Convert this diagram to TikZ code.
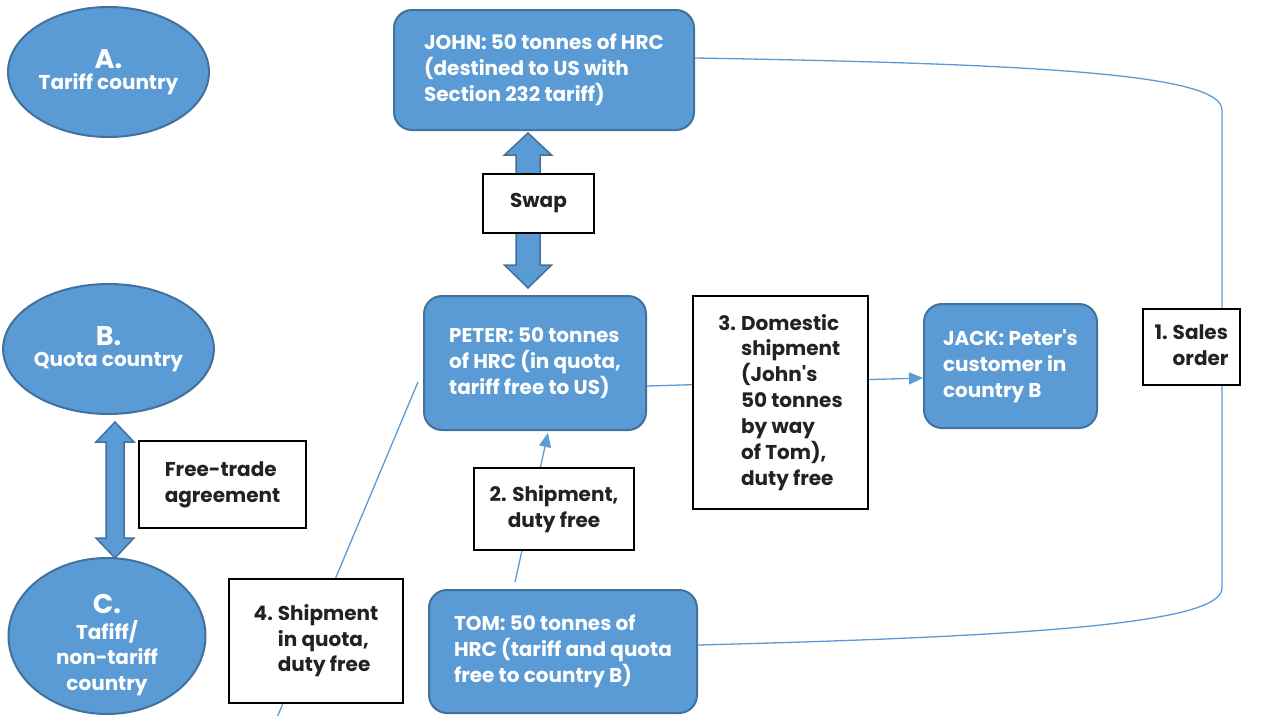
\documentclass[tikz,border=0pt]{standalone}
\usepackage{fontspec}
\setmainfont{Poppins}[Ligatures=TeXOff]
\usetikzlibrary{arrows.meta,shapes.geometric}
\definecolor{bfill}{HTML}{5B9BD5}
\definecolor{bdraw}{HTML}{41719C}
\definecolor{txt}{HTML}{222222}
\newcommand\bodyfont{\fontsize{20}{25.8}\selectfont\bfseries}
\newcommand\bigfont{\fontsize{27}{29}\selectfont\bfseries}
\tikzset{
  bluebox/.style={draw=bdraw, fill=bfill, line width=2pt, rounded corners=18pt,
    text=white, font=\bodyfont, align=left, inner sep=0pt},
  whitebox/.style={draw=black, fill=white, line width=1.5pt, text=txt,
    font=\bodyfont, align=left, inner sep=0pt},
  country/.style={ellipse, draw=bdraw, fill=bfill, line width=2pt, text=white,
    font=\bodyfont, align=center, inner sep=0pt},
  ctext/.style={text=white, font=\bodyfont, align=center, inner sep=0pt},
  fatarrow/.style={draw=bdraw, fill=bfill, line width=1.5pt, line join=miter},
  conn/.style={draw=bfill, line width=1.3pt},
  tip/.style={-{Triangle[length=14pt,width=12pt]}}
}
\begin{document}
\begin{tikzpicture}[x=1pt,y=-1pt]
\useasboundingbox (0,0) rectangle (1268,715);
\clip (0,0) rectangle (1268,715);

% countries
\node[country, minimum width=201pt, minimum height=130pt] (A) at (108.5,72)
  {{\bigfont A.}\\[-5pt]Tariff country};
\node[country, minimum width=201pt, minimum height=130pt] (B) at (108.5,349)
  {{\bigfont B.}\\[-5pt]Quota country};
\node[country, minimum width=197pt, minimum height=156pt] (C) at (107,636) {};
\node[ctext] (Ct) at (107,645)
  {{\bigfont C.}\\[0pt]Tafiff/\\non-tariff\\country};

% fat arrows
\draw[fatarrow] (115,422) -- (134,442) -- (124,442) -- (124,538) -- (134,538)
  -- (115,558) -- (96,538) -- (106,538) -- (106,442) -- (96,442) -- cycle;
\draw[fatarrow] (528,133) -- (551.5,155) -- (540,155) -- (540,265) -- (551.5,265)
  -- (528,288) -- (504.5,265) -- (516,265) -- (516,155) -- (504.5,155) -- cycle;

% actor boxes
\node[bluebox, minimum width=300pt, minimum height=120pt] (john) at (544,70)
  {JOHN: 50 tonnes of HRC\\(destined to US with\\Section 232 tariff)};
\node[bluebox, minimum width=222pt, minimum height=134pt] (peter) at (535,363)
  {PETER: 50 tonnes\\of HRC (in quota,\\tariff free to US)};
\node[bluebox, minimum width=173pt, minimum height=124pt] (jack) at (1010.5,366)
  {JACK: Peter's\\customer in\\country B};
\node[bluebox, minimum width=268pt, minimum height=123pt] (tom) at (563,651.5)
  {TOM: 50 tonnes of\\HRC (tariff and quota\\free to country B)};

% connectors
\coordinate (l4a) at (418,382);
\coordinate (l4b) at (276,720);
\draw[conn] (l4a) -- (l4b);
\draw[conn] ([yshift=12pt]john.east) .. controls (1050,64) and (1222,75) .. (1222,110)
  -- (1222,588) .. controls (1222,622) and (1050,636) .. ([yshift=6.5pt]tom.east);
\draw[conn, tip] ([yshift=-23pt]peter.east) -- ([yshift=-12pt]jack.west);
\draw[conn, tip] ([xshift=-48pt,yshift=7pt]tom.north) -- ([xshift=13pt,yshift=-2pt]peter.south);

% label boxes
\node[whitebox, minimum width=111pt, minimum height=59pt, align=center] (swap) at (538.5,203.5) {Swap};
\node[whitebox, minimum width=167pt, minimum height=87pt] (fta) at (222.5,484.5)
  {Free-trade\\agreement};
\node[whitebox, minimum width=175pt, minimum height=213pt] (s3) at (780.5,402.5)
  {\begin{tabular}{@{}l@{\hspace{5pt}}l@{}}3.&Domestic\\&shipment\\&(John's\\&50 tonnes\\&by way\\&of Tom),\\&duty free\end{tabular}};
\node[whitebox, minimum width=97pt, minimum height=76pt] (s1) at (1191.5,347)
  {\begin{tabular}{@{}l@{\hspace{5pt}}l@{}}1.&Sales\\&order\end{tabular}};
\node[whitebox, minimum width=160pt, minimum height=82pt, align=center] (s2) at (554,509)
  {2. Shipment,\\duty free};
\node[whitebox, minimum width=174pt, minimum height=124pt] (s4) at (316,641)
  {\begin{tabular}{@{}l@{\hspace{5pt}}l@{}}4.&Shipment\\&in quota,\\&duty free\end{tabular}};
\end{tikzpicture}
\end{document}
